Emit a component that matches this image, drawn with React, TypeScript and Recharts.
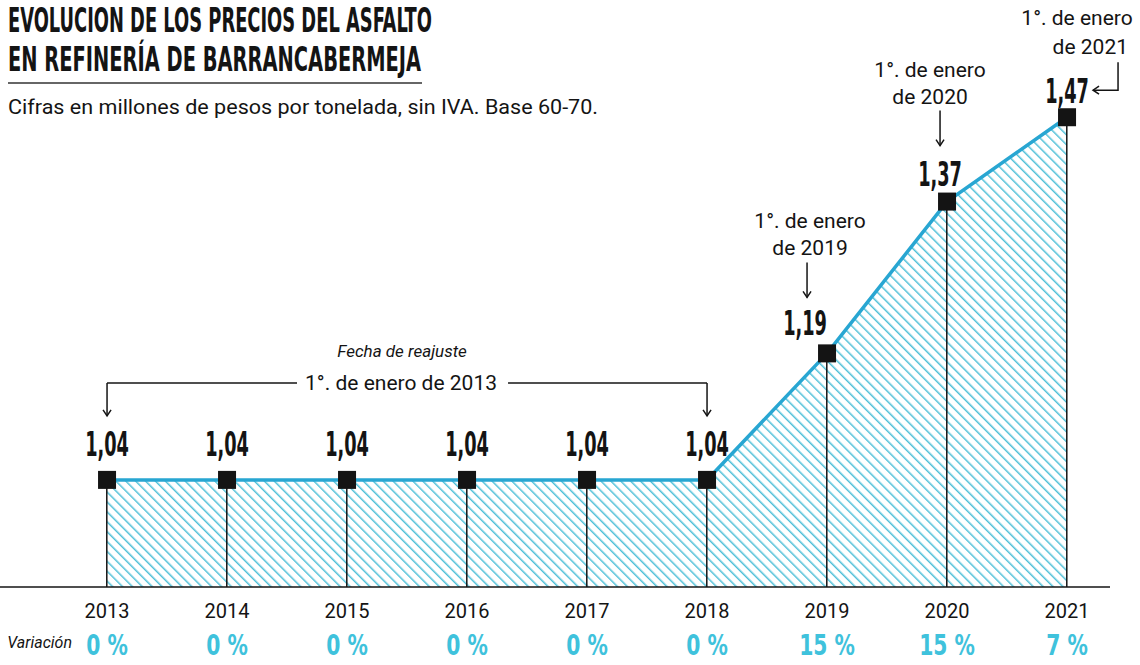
import { Area, Bar, ComposedChart, LabelList, Line, XAxis, YAxis } from 'recharts'

document.body.style.margin = '0'

const years = [2013, 2014, 2015, 2016, 2017, 2018, 2019, 2020, 2021]
const prices = [1.04, 1.04, 1.04, 1.04, 1.04, 1.04, 1.19, 1.37, 1.47]
const priceLabels = ['1,04', '1,04', '1,04', '1,04', '1,04', '1,04', '1,19', '1,37', '1,47']
const variations = ['0 %', '0 %', '0 %', '0 %', '0 %', '0 %', '15 %', '15 %', '7 %']
const adjustYears = ['2013', '2019', '2020', '2021']

const data = years.map((year, i) => ({ year, price: prices[i] }))

const ink = '#141414'
const cyan = '#28a6d2'
const hatch = '#4fc0d8'
const narrow = "'DejaVu Sans Condensed', 'DejaVu Sans', sans-serif"
const sans = "Roboto, 'Noto Sans', sans-serif"

// condensed text: squeeze horizontally around its anchor point
function Squeezed({ x, y, sx, size, color, anchor = 'middle', children }: any) {
  return (
    <text
      transform={`translate(${x},${y}) scale(${sx},1)`}
      textAnchor={anchor}
      fontFamily={narrow}
      fontWeight="bold"
      fontSize={size}
      fill={color}
    >
      {children}
    </text>
  )
}

function DownArrow({ x, y1, y2 }: { x: number; y1: number; y2: number }) {
  return (
    <g stroke={ink} strokeWidth={1.5} fill="none">
      <line x1={x} y1={y1} x2={x} y2={y2} />
      <path d={`M${x - 4},${y2 - 6} L${x},${y2} L${x + 4},${y2 - 6}`} />
    </g>
  )
}

function PriceLabel(props: any) {
  const { x, y, index } = props
  const label = priceLabels[index]
  const valueText = (dx: number, dy: number) => (
    <Squeezed x={x + dx} y={y + dy} sx={0.58} size={34} color={ink}>
      {label}
    </Squeezed>
  )
  if (index <= 5) {
    return (
      <g>
        {valueText(0, -24)}
        {index === 0 && (
          <g>
            <DownArrow x={x} y1={y - 97} y2={y - 64} />
            <line x1={x} y1={y - 97} x2={x + 190} y2={y - 97} stroke={ink} strokeWidth={1.5} />
            <text x={x + 294} y={y - 90} textAnchor="middle" fontFamily={sans} fontSize={21} fill={ink}>
              1°. de enero de {adjustYears[0]}
            </text>
            <text x={x + 295} y={y - 123} textAnchor="middle" fontFamily={sans} fontStyle="italic" fontSize={17} fill={ink}>
              Fecha de reajuste
            </text>
          </g>
        )}
        {index === 5 && (
          <g>
            <DownArrow x={x} y1={y - 97} y2={y - 64} />
            <line x1={x - 199} y1={y - 97} x2={x} y2={y - 97} stroke={ink} strokeWidth={1.5} />
          </g>
        )}
      </g>
    )
  }
  if (index === 6 || index === 7) {
    const ax = index === 6 ? x - 20 : x - 7
    const lx = index === 6 ? x - 22 : x - 7
    const dy = index === 6 ? -18 : -16
    return (
      <g>
        {valueText(lx - x, dy)}
        <text x={x - 17} y={y - 125} textAnchor="middle" fontFamily={sans} fontSize={21} fill={ink}>
          1°. de enero
        </text>
        <text x={x - 17} y={y - 98} textAnchor="middle" fontFamily={sans} fontSize={21} fill={ink}>
          de {adjustYears[index - 5]}
        </text>
        <DownArrow x={ax} y1={y - 91} y2={y - 56} />
      </g>
    )
  }
  return (
    <g>
      {valueText(0, -14)}
      <text x={x + 10} y={y - 92} textAnchor="middle" fontFamily={sans} fontSize={21} fill={ink}>
        1°. de enero
      </text>
      <text x={x + 61} y={y - 63} textAnchor="end" fontFamily={sans} fontSize={21} fill={ink}>
        de {adjustYears[3]}
      </text>
      <g stroke={ink} strokeWidth={1.5} fill="none">
        <path d={`M${x + 51},${y - 55} L${x + 51},${y - 27} L${x + 26},${y - 27}`} />
        <path d={`M${x + 32},${y - 31} L${x + 26},${y - 27} L${x + 32},${y - 23}`} />
      </g>
    </g>
  )
}

function SquareDot(props: any) {
  const { cx, cy } = props
  if (cx == null || cy == null) return null
  return <rect x={cx - 9} y={cy - 9} width={18} height={18} fill={ink} />
}

function YearTick(props: any) {
  const { x, y, payload } = props
  const i = years.indexOf(payload.value)
  return (
    <g>
      <text x={x} y={y + 31} textAnchor="middle" fontFamily={sans} fontSize={20} fill={ink}>
        {payload.value}
      </text>
      <Squeezed x={x} y={y + 68} sx={0.78} size={29} color="#3fc2dc">
        {variations[i]}
      </Squeezed>
      {i === 0 && (
        <text x={x - 35} y={y + 61} textAnchor="end" fontFamily={sans} fontStyle="italic" fontSize={16} fill={ink}>
          Variación
        </text>
      )}
    </g>
  )
}

export default function App() {
  return (
    <div style={{ position: 'relative', width: 1140, height: 665, background: '#fff' }}>
      <ComposedChart width={1140} height={665} data={data} margin={{ top: 0, right: 30, left: 0, bottom: 0 }}>
        <defs>
          <pattern id="hatch" patternUnits="userSpaceOnUse" width={7} height={7} patternTransform="rotate(-45)">
            <line x1={0} y1={0} x2={0} y2={7} stroke={hatch} strokeWidth={3} />
          </pattern>
        </defs>
        <XAxis
          type="number"
          dataKey="year"
          domain={[2012.108, 2021.358]}
          allowDataOverflow
          ticks={years}
          interval={0}
          height={78}
          tickSize={0}
          tickMargin={0}
          tickLine={false}
          axisLine={{ stroke: ink, strokeWidth: 1.6 }}
          tick={<YearTick />}
        />
        <YAxis hide domain={[0.913, 1.609]} allowDataOverflow />
        <Area
          type="linear"
          dataKey="price"
          stroke={cyan}
          strokeWidth={3.5}
          fill="url(#hatch)"
          fillOpacity={1}
          dot={false}
          activeDot={false}
          isAnimationActive={false}
        />
        <Bar dataKey="price" barSize={1.5} fill={ink} isAnimationActive={false} />
        <Line
          type="linear"
          dataKey="price"
          stroke="none"
          dot={<SquareDot />}
          activeDot={false}
          isAnimationActive={false}
        >
          <LabelList dataKey="price" content={<PriceLabel />} />
        </Line>
      </ComposedChart>
      <svg width={640} height={130} style={{ position: 'absolute', left: 0, top: 0, pointerEvents: 'none' }}>
        <Squeezed x={8} y={32} sx={0.602} size={33} color={ink} anchor="start">
          EVOLUCION DE LOS PRECIOS DEL ASFALTO
        </Squeezed>
        <Squeezed x={8} y={71} sx={0.655} size={33} color={ink} anchor="start">
          EN REFINERÍA DE BARRANCABERMEJA
        </Squeezed>
        <line x1={8} y1={83} x2={422} y2={83} stroke="#333" strokeWidth={1.5} />
        <text x={8} y={114} fontFamily={sans} fontSize={20} fill={ink} textLength={590} lengthAdjust="spacingAndGlyphs">
          Cifras en millones de pesos por tonelada, sin IVA. Base 60-70.
        </text>
      </svg>
    </div>
  )
}
